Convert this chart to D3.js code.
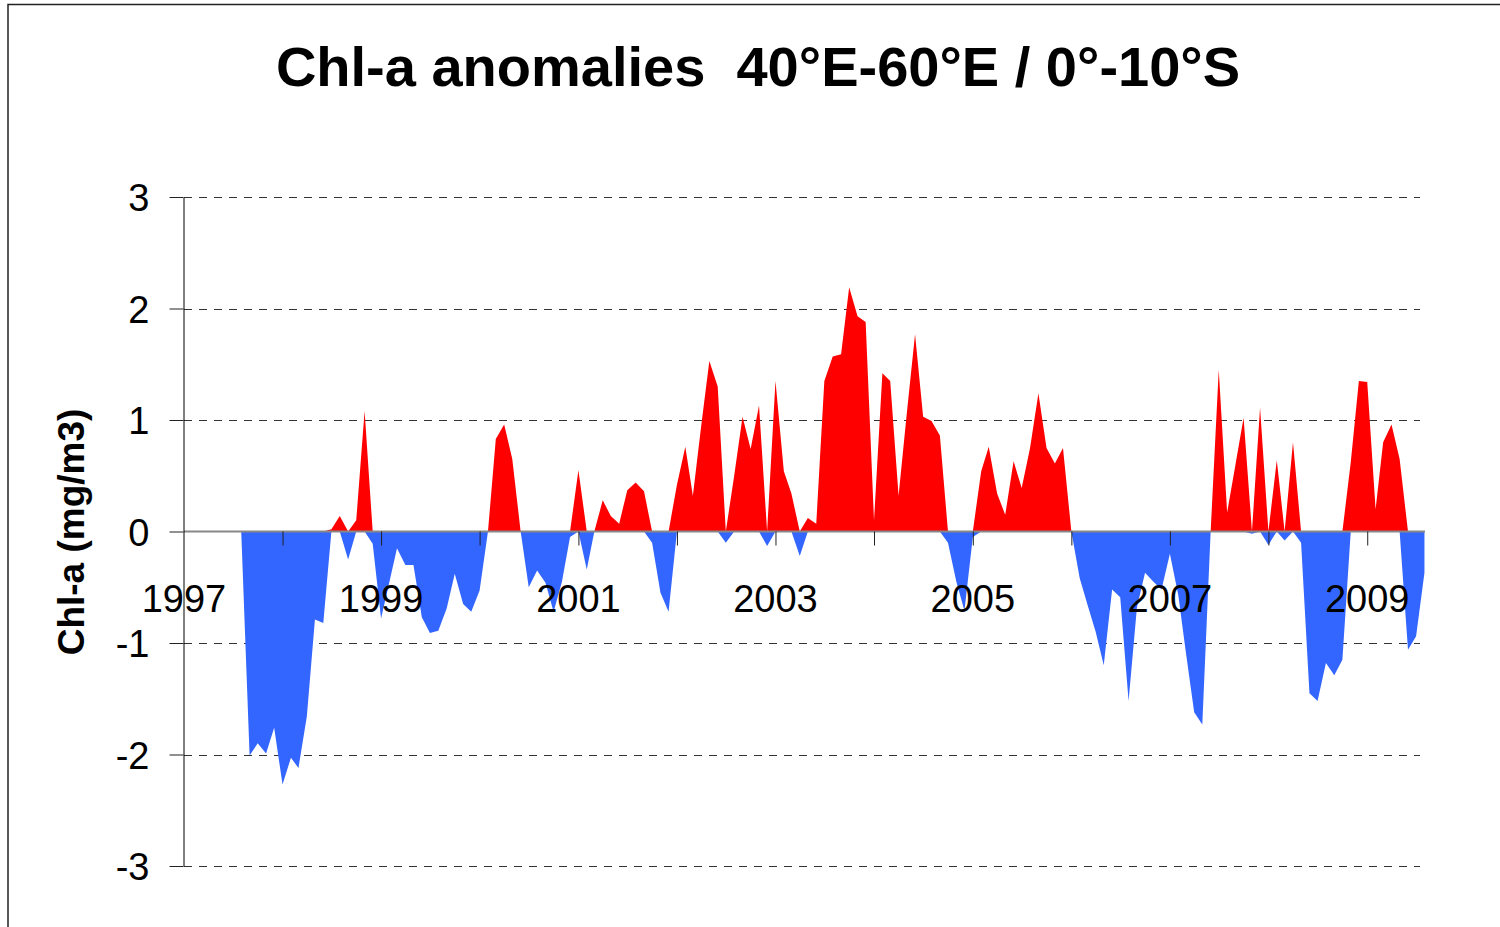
<!DOCTYPE html>
<html>
<head>
<meta charset="utf-8">
<script src="https://cdn.jsdelivr.net/npm/d3@7"></script>
<style>
  body { margin: 0; background: #fff; }
  svg { display: block; font-family: "Liberation Sans", Arial, sans-serif; }
</style>
</head>
<body>
<div id="chart"></div>
<script>
// monthly Chl-a anomalies (mg/m3), first value = Aug 1997
const firstMonth = [1997, 7]; // year, month index (0 = Jan)
const anomalies = [
  // 1997 Aug-Dec
  0, -2.01, -1.90, -1.99, -1.76,
  // 1998
  -2.27, -2.03, -2.12, -1.66, -0.79, -0.82, 0.02, 0.14, -0.25, 0.1, 1.08, -0.11,
  // 1999
  -0.78, -0.45, -0.15, -0.30, -0.30, -0.77, -0.91, -0.89, -0.69, -0.38, -0.65, -0.72,
  // 2000
  -0.53, 0, 0.83, 0.96, 0.65, 0, -0.50, -0.35, -0.46, -0.72, -0.45, -0.05,
  // 2001
  0.55, -0.34, 0, 0.28, 0.14, 0.07, 0.37, 0.44, 0.36, -0.1, -0.55, -0.72,
  // 2002
  0.42, 0.76, 0.32, 0.95, 1.53, 1.30, -0.1, 0.5, 1.03, 0.74, 1.13, -0.13,
  // 2003
  1.35, 0.54, 0.34, -0.22, 0.12, 0.07, 1.35, 1.57, 1.59, 2.19, 1.93, 1.88,
  // 2004
  0.10, 1.42, 1.35, 0.32, 1.05, 1.77, 1.03, 0.99, 0.86, -0.1, -0.45, -0.71,
  // 2005
  -0.05, 0.54, 0.76, 0.34, 0.15, 0.63, 0.39, 0.75, 1.24, 0.75, 0.61, 0.75,
  // 2006
  0, -0.42, -0.65, -0.9, -1.20, -0.52, -0.59, -1.52, -0.68, -0.37, -0.45, -0.52,
  // 2007
  -0.20, -0.57, -1.08, -1.62, -1.73, 0, 1.45, 0.17, 0.6, 1.02, -0.02, 1.11,
  // 2008
  -0.12, 0.64, -0.08, 0.80, -0.1, -1.45, -1.52, -1.18, -1.29, -1.15, 0.62, 1.35,
  // 2009 Jan-Aug
  1.34, 0.2, 0.8, 0.96, 0.65, -1.06, -0.94, -0.37
];
const tickYears = [1998, 1999, 2000, 2001, 2002, 2003, 2004, 2005, 2006, 2007, 2008, 2009];
const labelYears = [1997, 1999, 2001, 2003, 2005, 2007, 2009];
const yTicks = [-3, -2, -1, 0, 1, 2, 3];
const titleText = "Chl-a anomalies  40°E-60°E / 0°-10°S";
const yTitle = "Chl-a (mg/m3)";

const width = 1500, height = 927;
const plot = { left: 184, right: 1425, top: 197, bottom: 866 };

const data = anomalies.map((v, i) => ({
  date: d3.utcMonth.offset(new Date(Date.UTC(firstMonth[0], firstMonth[1], 1)), i),
  v
}));

const svg = d3.select("#chart").append("svg")
  .attr("width", width)
  .attr("height", height);

svg.append("rect").attr("width", width).attr("height", height).attr("fill", "#fff");

// outer chart frame (left and top edges visible)
svg.append("path")
  .attr("d", `M8,${height} V4.5 H${width}`)
  .attr("fill", "none")
  .attr("stroke", "#222")
  .attr("stroke-width", 1.5);

const x = d3.scaleUtc()
  .domain([new Date(Date.UTC(1997, 0, 1)), new Date(Date.UTC(2009, 7, 3))])
  .range([plot.left, plot.right]);

const y = d3.scaleLinear()
  .domain([-3, 3])
  .range([plot.bottom, plot.top]);

const crisp = v => Math.round(y(v)) + 0.5;

// dashed gridlines
svg.append("g")
  .selectAll("line")
  .data(yTicks.filter(d => d !== 0))
  .join("line")
  .attr("x1", plot.left)
  .attr("x2", 1420)
  .attr("y1", d => crisp(d))
  .attr("y2", d => crisp(d))
  .attr("stroke", "#333")
  .attr("stroke-width", 1)
  .attr("stroke-dasharray", "8,7");

// positive and negative areas
const posArea = d3.area()
  .x(d => x(d.date))
  .y0(y(0))
  .y1(d => y(Math.max(d.v, 0)));
const negArea = d3.area()
  .x(d => x(d.date))
  .y0(y(0))
  .y1(d => y(Math.min(d.v, 0)));

svg.append("path").datum(data).attr("d", posArea).attr("fill", "#ff0000");
svg.append("path").datum(data).attr("d", negArea).attr("fill", "#3366ff");

// zero line
svg.append("line")
  .attr("x1", plot.left)
  .attr("x2", plot.right)
  .attr("y1", y(0))
  .attr("y2", y(0))
  .attr("stroke", "#888")
  .attr("stroke-width", 2);

// x ticks on the zero line
const xAxis = svg.append("g")
  .attr("transform", `translate(0,${y(0)})`)
  .call(d3.axisBottom(x)
    .tickValues(tickYears.map(yr => new Date(Date.UTC(yr, 0, 1))))
    .tickSize(14)
    .tickFormat(""));
xAxis.select(".domain").remove();
xAxis.selectAll("line").attr("stroke", "#222");

// year labels
svg.append("g")
  .selectAll("text")
  .data(labelYears)
  .join("text")
  .attr("x", d => x(new Date(Date.UTC(d, 0, 1))))
  .attr("y", 612)
  .attr("text-anchor", "middle")
  .attr("font-size", "38px")
  .attr("fill", "#000")
  .text(d => d);

// y axis
const yAxis = svg.append("g")
  .attr("transform", `translate(${plot.left - 0.5},0)`)
  .call(d3.axisLeft(y)
    .tickValues(yTicks)
    .tickSize(14)
    .tickSizeOuter(0)
    .tickPadding(20)
    .tickFormat(d => String(d)));
yAxis.select(".domain").attr("stroke", "#000");
yAxis.selectAll("line").attr("stroke", "#222");
yAxis.selectAll("text")
  .attr("font-size", "38px")
  .attr("font-family", "'Liberation Sans', Arial, sans-serif")
  .attr("fill", "#000")
  .attr("dy", "0.36em");

// titles
svg.append("text")
  .attr("x", 758)
  .attr("y", 86)
  .attr("text-anchor", "middle")
  .attr("font-size", "56px")
  .attr("font-weight", "bold")
  .style("white-space", "pre")
  .text(titleText);

svg.append("text")
  .attr("transform", "translate(84,532) rotate(-90)")
  .attr("text-anchor", "middle")
  .attr("font-size", "37px")
  .attr("font-weight", "bold")
  .text(yTitle);
</script>
</body>
</html>
